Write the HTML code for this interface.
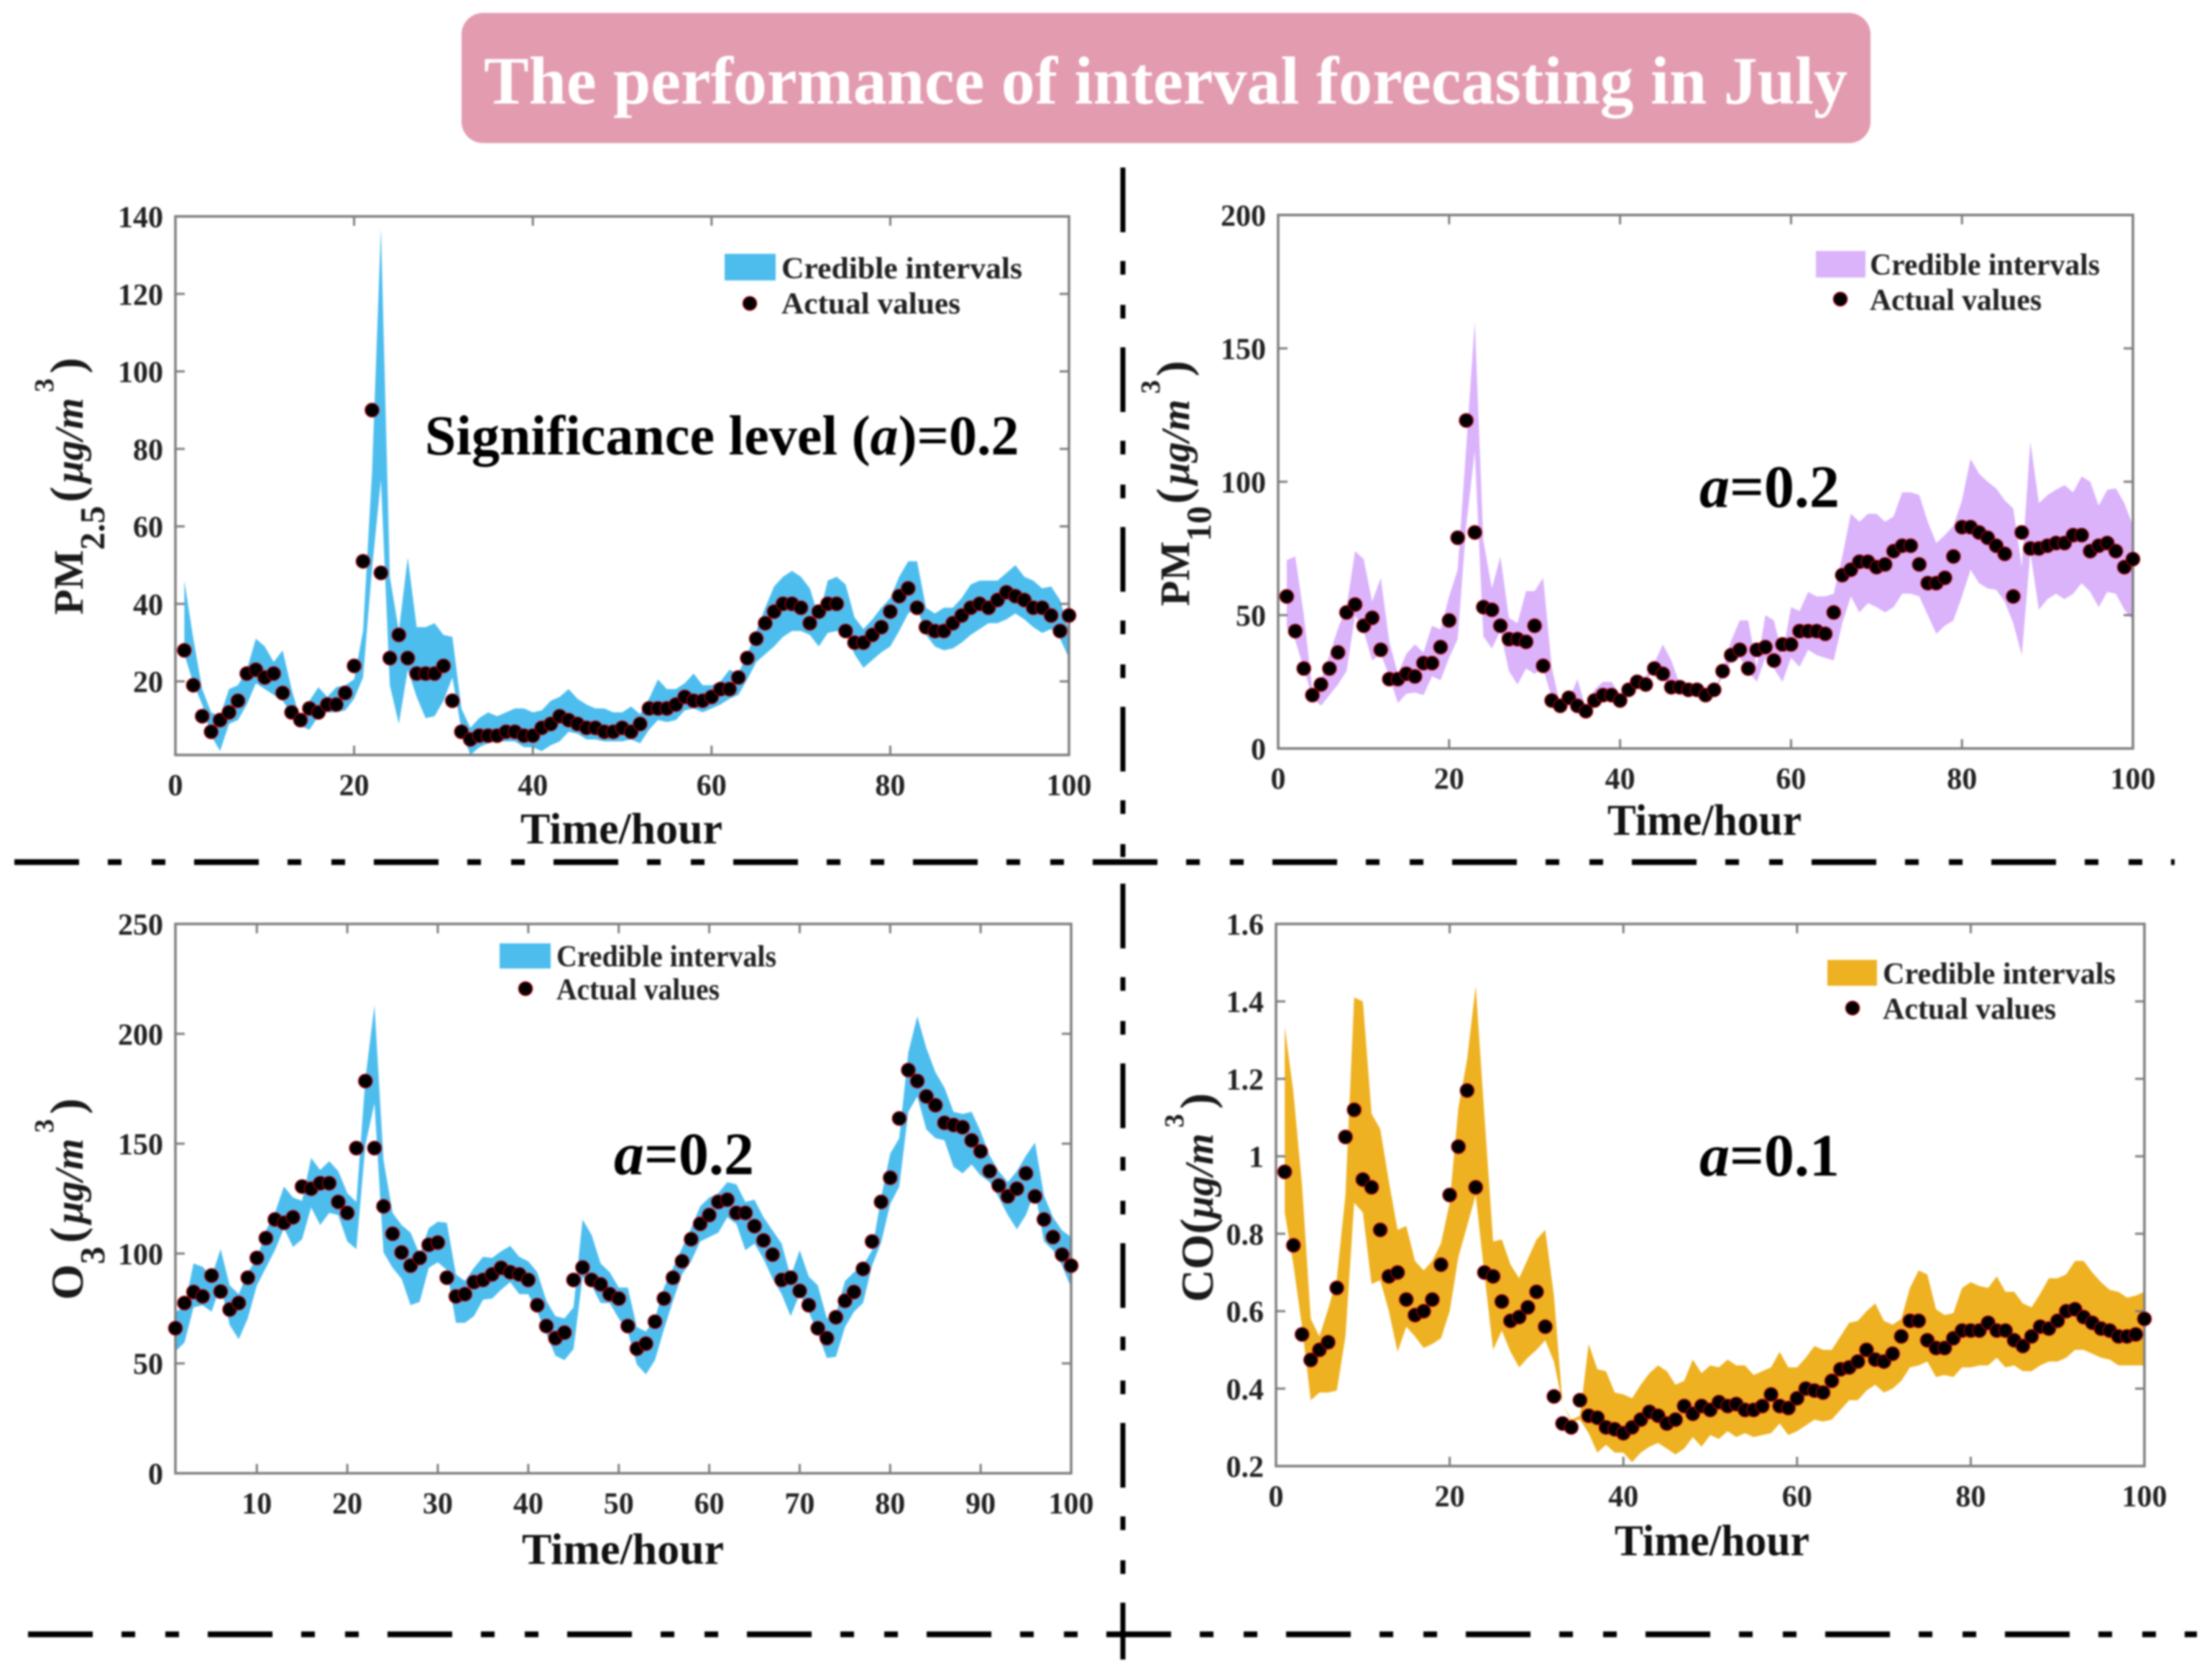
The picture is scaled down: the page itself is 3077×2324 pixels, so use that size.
<!DOCTYPE html>
<html lang="en">
<head>
<meta charset="utf-8">
<title>The performance of interval forecasting in July</title>
<style>
html,body{margin:0;padding:0;background:#fff;}
#chart{display:block;width:3077px;height:2324px;filter:blur(1.2px);}
text{font-family:"Liberation Serif",serif;font-weight:bold;fill:#111;}
.tick-label{font-size:42px;fill:#222;}
.axis-title{font-size:61px;}
.legend-text{font-size:42px;fill:#222;}
.y-title{font-size:58px;fill:#1a1a1a;}
.annot{font-size:84px;fill:#000;}
.ital{font-style:italic;}
</style>
</head>
<body>
<svg id="chart" xmlns="http://www.w3.org/2000/svg" width="3077" height="2324" viewBox="0 0 3077 2324">
  <rect x="642" y="18" width="1960" height="181" rx="30" ry="30" fill="#e39bb0"/>
  <text x="673" y="144" font-size="94" textLength="1897" lengthAdjust="spacingAndGlyphs" style="fill:#fff">The performance of interval forecasting in July</text>

  <g id="panel-pm25"></g>
  <g id="panel-pm10"></g>
  <g id="panel-o3"></g>
  <g id="panel-co"></g>

  <line x1="20" y1="1199" x2="3025" y2="1199" stroke="#000" stroke-width="8" stroke-dasharray="90 40 19 42 19 40"/>
  <line x1="39" y1="2273" x2="3056" y2="2273" stroke="#000" stroke-width="8" stroke-dasharray="90 40 19 42 19 40"/>
  <line x1="1562" y1="233" x2="1562" y2="1192" stroke="#000" stroke-width="7" stroke-dasharray="90 40 19 42 19 40"/>
  <line x1="1562" y1="1229" x2="1562" y2="2308" stroke="#000" stroke-width="7" stroke-dasharray="90 40 19 42 19 40"/>

  <text class="axis-title" x="724" y="1173" textLength="281" lengthAdjust="spacingAndGlyphs">Time/hour</text>
  <text class="axis-title" x="2236" y="1161" textLength="270" lengthAdjust="spacingAndGlyphs">Time/hour</text>
  <text class="axis-title" x="726" y="2175" textLength="281" lengthAdjust="spacingAndGlyphs">Time/hour</text>
  <text class="axis-title" x="2246" y="2163" textLength="271" lengthAdjust="spacingAndGlyphs">Time/hour</text>

  <text class="y-title" transform="translate(115,855) rotate(-90)">PM<tspan font-size="49" dy="30">2.5</tspan><tspan font-size="66" dy="-30" dx="5">(</tspan><tspan class="ital" font-size="56" dx="5">&#956;g/m</tspan><tspan font-size="38" dy="-41" dx="8">3</tspan><tspan font-size="66" dy="41" dx="7">)</tspan></text>
  <text class="y-title" transform="translate(1654,843) rotate(-90)">PM<tspan font-size="49" dy="30">10</tspan><tspan font-size="66" dy="-30" dx="3">(</tspan><tspan class="ital" font-size="56" dx="5">&#956;g/m</tspan><tspan font-size="38" dy="-41" dx="8">3</tspan><tspan font-size="66" dy="41" dx="5">)</tspan></text>
  <text class="y-title" transform="translate(115,1808) rotate(-90)"><tspan font-size="64">O</tspan><tspan font-size="49" dy="30">3</tspan><tspan font-size="66" dy="-30" dx="5">(</tspan><tspan class="ital" font-size="56" dx="5">&#956;g/m</tspan><tspan font-size="38" dy="-41" dx="8">3</tspan><tspan font-size="66" dy="41" dx="7">)</tspan></text>
  <text class="y-title" transform="translate(1687,1811) rotate(-90)"><tspan font-size="63">CO</tspan><tspan font-size="66">(</tspan><tspan class="ital" font-size="56">&#956;g/m</tspan><tspan font-size="38" dy="-41" dx="8">3</tspan><tspan font-size="66" dy="41" dx="7">)</tspan></text>

  <text x="591" y="632" font-size="78" style="fill:#000">Significance level (<tspan class="ital">a</tspan>)=0.2</text>
  <text class="annot" x="2364" y="705"><tspan class="ital">a</tspan>=0.2</text>
  <text class="annot" x="854" y="1633"><tspan class="ital">a</tspan>=0.2</text>
  <text class="annot" x="2364" y="1635"><tspan class="ital">a</tspan>=0.1</text>

  <g>
    <rect x="1008" y="353" width="71" height="37" fill="#4dbdee"/>
    <text class="legend-text" x="1087" y="387" textLength="335" lengthAdjust="spacingAndGlyphs">Credible intervals</text>
    <circle cx="1043" cy="422" r="9.5" fill="#000" stroke="#a00010" stroke-width="1.5"/>
    <text class="legend-text" x="1087" y="436" textLength="249" lengthAdjust="spacingAndGlyphs">Actual values</text>
  </g>
  <g>
    <rect x="2526" y="349" width="69" height="37" fill="#dab3fb"/>
    <text class="legend-text" x="2601" y="382" textLength="320" lengthAdjust="spacingAndGlyphs">Credible intervals</text>
    <circle cx="2560" cy="416" r="9.5" fill="#000" stroke="#a00010" stroke-width="1.5"/>
    <text class="legend-text" x="2601" y="431" textLength="239" lengthAdjust="spacingAndGlyphs">Actual values</text>
  </g>
  <g>
    <rect x="695" y="1312" width="71" height="35" fill="#4dbdee"/>
    <text class="legend-text" x="774" y="1344" textLength="306" lengthAdjust="spacingAndGlyphs">Credible intervals</text>
    <circle cx="731" cy="1375" r="9.5" fill="#000" stroke="#a00010" stroke-width="1.5"/>
    <text class="legend-text" x="774" y="1390" textLength="227" lengthAdjust="spacingAndGlyphs">Actual values</text>
  </g>
  <g>
    <rect x="2542" y="1335" width="69" height="36" fill="#eeb121"/>
    <text class="legend-text" x="2619" y="1368" textLength="324" lengthAdjust="spacingAndGlyphs">Credible intervals</text>
    <circle cx="2577" cy="1402" r="9.5" fill="#000" stroke="#a00010" stroke-width="1.5"/>
    <text class="legend-text" x="2619" y="1417" textLength="241" lengthAdjust="spacingAndGlyphs">Actual values</text>
  </g>
</svg>

<script>
const hours = [1,2,3,4,5,6,7,8,9,10,11,12,13,14,15,16,17,18,19,20,21,22,23,24,25,26,27,28,29,30,31,32,33,34,35,36,37,38,39,40,41,42,43,44,45,46,47,48,49,50,51,52,53,54,55,56,57,58,59,60,61,62,63,64,65,66,67,68,69,70,71,72,73,74,75,76,77,78,79,80,81,82,83,84,85,86,87,88,89,90,91,92,93,94,95,96,97,98,99,100];

const pm25XTicks = [0,20,40,60,80,100];
const pm25YTicks = [20,40,60,80,100,120,140];
const pm25Actual = [28,19,11,7,10,12,15,22,23,21,22,17,12,10,13,12,14,14,17,24,51,90,48,26,32,26,22,22,22,24,15,7,5,6,6,6,7,7,6,6,8,9,11,10,9,8,8,7,7,8,7,9,13,13,13,14,16,15,15,16,18,18,21,26,31,35,38,40,40,39,35,38,40,40,33,30,30,32,34,38,42,44,39,34,33,33,35,37,39,40,39,41,43,42,41,39,39,37,33,37];
const pm25Upper = [46,31,18,12,11,18,19,23,31,29,25,28,18,10,15,18.5,16,18.5,19,20.5,33,74,137,47,33,52,34,34,35,32,31.5,13,8,10.5,12,11,12,13,13,12,12.5,15,16,18,15.5,14,13,13,12,12,13.5,11.5,15.5,20.5,18,18,19.5,22,19,19,20,23,22,27,33,39,44.5,47,48.5,47,44,36.5,46,47,45,36.5,33.5,36,39,41.5,47,51,51,39,37.5,39,39,41.5,45,46,46,46,48,50,47,46,44,44.5,41,33];
const pm25Lower = [27,19.5,14,6,2,9,10,14,19.5,18,16.5,15,11.5,8.5,7.5,11,12,12,12.5,15.5,21,49,72,19,9,23,16,10.5,11,15,21,7.5,1,3,4,4.5,4.5,4.5,3,3,2,3.5,4.5,7,6.5,5,5,4.5,4.5,4.5,5,4,7.5,10,9.5,10,12.5,13,12,13,14,15.5,16.5,20.5,25,27,29,31.5,33,33,32,29,32.5,33,33,27,23.5,25.5,27.5,29,33,37.5,39,32,29,28,28.5,30,32,33.5,35,35,36,37.5,36,34,32.5,33.5,31,26];

const pm10XTicks = [0,20,40,60,80,100];
const pm10YTicks = [0,50,100,150,200];
const pm10Actual = [57,44,30,20,24,30,36,51,54,46,49,37,26,26,28,27,32,32,38,48,79,123,81,53,52,46,41,41,40,46,31,18,16,19,16,14,18,20,20,18,22,25,24,30,28,23,23,22,22,20,22,29,35,37,30,37,38,33,39,39,44,44,44,43,51,65,67,70,70,68,69,74,76,76,69,62,62,64,72,83,83,81,79,76,73,57,81,75,75,76,77,77,80,80,74,76,77,74,68,71];
const pm10Upper = [70.6,72,50,22,25.6,35,45,53,74,71,55,64,40,28,35.5,39,36,46,44.6,57,67,113,160,78,60,72,49,47,59,59,64,30.5,16,18,26,15,22,25,25,20,22,26.5,27,32,39,33,24,22.5,21.5,19,21.5,29,40.5,48,48,30.5,50,48,35,53,51.5,58.7,57,57,58,72,88,85,88,88,85,87,96,96,95,85,77,80,83.5,93,108.6,103,100,97.5,93,90,68,115,92,95,97,98.7,96,102,100,91,97,97.5,92,83.5];
const pm10Lower = [45.5,40.5,30,19,16,20,24,29,50,44,33,35.5,27,17,20.5,21,20,27,25.6,34,41,83.5,111.6,42,37.5,44,29,24,30,28,30,19,15.7,16.5,15.7,14,17.4,19,19,17,20.7,24,25,30,26,23,22,21.5,21,19,21,27,33,34,29,25,34,30,25,34,30.6,37,35,34,33,47,57,51,54.5,53,51,53,58,58,57,50,43,46,48,57,67,62,60,59.5,55,47,35,73.5,52,56,58,56,58,62,58.7,53,58.7,58,52,48];

const o3XTicks = [10,20,30,40,50,60,70,80,90,100];
const o3YTicks = [0,50,100,150,200,250];
const o3Actual = [66,77.5,82.5,80.5,90,82.7,74.5,77.5,89,98,107,115.5,114,116.5,130.5,129.5,132,132,123.5,118.5,148,178.5,148,121.5,109,100.5,94.5,98,104,105,89,80.5,81.5,87,88,90.5,93.5,91.5,90.5,88,76.5,67,61.5,64,88,93.7,88,86,81.5,79.5,67,56.7,59,69,79.5,89,96.5,106.5,113.5,117.5,123.5,124.5,118.5,118.5,112.5,106,99.5,88,89,83,76.5,66,61.5,71,78.5,82.5,93,105.5,123.5,134.5,161.5,183.5,178.5,171.5,167.5,159.5,158.5,157.5,151.5,146.5,137.5,131,126,129.5,136.5,126,115.5,107.5,99.5,94.5];
const o3Upper = [73.5,75.5,95.5,94,89.5,102,85.5,81.5,91.5,97.5,110.5,118.5,130.5,125.5,124,143.5,138,142,137.5,127.5,123.5,179.5,213,142.5,118.5,113,109.5,99.5,111.5,114.5,114,90.5,87.5,93.5,98.5,98,101,103.5,98.5,96.5,91.5,78.5,71.5,70.5,75.5,115.5,108.5,95.5,91.5,84.5,84.5,66.5,64.5,70.5,84.5,93.5,102.5,111.5,121.5,125.5,127.5,132.5,131.5,123.5,124.5,116.5,110.5,104.5,89.5,101.5,89.5,85.5,70.5,72.5,87.5,91.5,94.5,101.5,125.5,145.5,152.5,191.5,208,193.5,182.5,175.5,164.5,163.5,164.5,155.5,144.5,137.5,132.5,137.5,144.5,150.5,126.5,116.5,110.5,107.5];
const o3Lower = [55.5,59.5,75.5,76.5,73.5,85.5,67.5,61,70.5,85.5,93.5,101.5,111.5,103,106.5,121,113,118.5,117.5,105.5,102,149.5,168.5,100.5,93.5,88.5,76.5,78,93.5,96,92.5,68.5,68.5,71.5,79,79.5,83.5,87,81.5,81.5,73.5,63.5,53.5,51.5,56.5,89.5,85.5,77.5,77.5,70.5,64.5,49.5,45,51.5,65.5,78.5,90.5,96.5,105.5,107.5,109.5,116.5,113.5,101.5,104.5,97.5,88.5,81.5,71.5,81.5,73.5,63.5,52.5,53,66.5,73.5,77.5,94.5,105,122.5,130.5,164.5,171.5,156.5,152.5,151.5,139.5,136.5,140.5,135.5,132.5,125.5,117.5,111,117.5,128.5,105.5,101.5,94.5,84.5];

const coXTicks = [0,20,40,60,80,100];
const coYTicks = [0.2,0.4,0.6,0.8,1,1.2,1.4,1.6];
const coActual = [0.96,0.77,0.54,0.474,0.5,0.52,0.66,1.05,1.12,0.94,0.92,0.81,0.69,0.7,0.63,0.59,0.6,0.63,0.72,0.9,1.025,1.17,0.92,0.7,0.69,0.625,0.575,0.585,0.61,0.65,0.56,0.38,0.31,0.3,0.37,0.33,0.325,0.3,0.295,0.285,0.3,0.32,0.34,0.33,0.31,0.32,0.355,0.335,0.355,0.345,0.365,0.355,0.36,0.345,0.345,0.355,0.385,0.355,0.35,0.375,0.4,0.395,0.39,0.42,0.45,0.455,0.47,0.5,0.475,0.47,0.49,0.535,0.575,0.575,0.525,0.505,0.505,0.53,0.55,0.55,0.55,0.57,0.55,0.55,0.525,0.51,0.535,0.56,0.555,0.575,0.6,0.605,0.585,0.57,0.555,0.55,0.535,0.535,0.54,0.58];
const coUpper = [1.335,1.165,0.925,0.58,0.535,0.605,0.685,0.9,1.41,1.4,1.11,1.07,0.935,0.81,0.82,0.73,0.705,0.73,0.775,0.88,1.125,1.25,1.44,1.105,0.78,0.785,0.72,0.685,0.735,0.785,0.81,0.64,0.36,0.32,0.33,0.515,0.45,0.445,0.39,0.385,0.375,0.41,0.44,0.46,0.445,0.41,0.42,0.475,0.44,0.46,0.455,0.475,0.46,0.46,0.435,0.445,0.455,0.495,0.455,0.455,0.48,0.51,0.5,0.5,0.535,0.57,0.575,0.6,0.62,0.575,0.565,0.58,0.66,0.705,0.695,0.605,0.59,0.595,0.66,0.675,0.665,0.66,0.69,0.65,0.65,0.62,0.61,0.645,0.685,0.685,0.695,0.73,0.73,0.7,0.675,0.655,0.65,0.635,0.64,0.65];
const coLower = [0.855,0.72,0.56,0.37,0.39,0.39,0.395,0.535,0.88,0.855,0.67,0.68,0.6,0.495,0.56,0.535,0.505,0.515,0.53,0.6,0.74,0.82,0.9,0.695,0.5,0.55,0.495,0.455,0.48,0.5,0.525,0.47,0.36,0.315,0.32,0.285,0.235,0.255,0.235,0.235,0.21,0.235,0.25,0.26,0.245,0.23,0.245,0.275,0.25,0.28,0.27,0.29,0.275,0.285,0.275,0.28,0.285,0.31,0.28,0.29,0.305,0.32,0.315,0.32,0.345,0.37,0.37,0.395,0.41,0.39,0.4,0.42,0.455,0.46,0.47,0.43,0.435,0.43,0.455,0.455,0.46,0.46,0.48,0.455,0.46,0.445,0.445,0.46,0.47,0.47,0.48,0.5,0.5,0.49,0.48,0.475,0.46,0.46,0.46,0.46];

const SVG_NS = 'http://www.w3.org/2000/svg';

function drawPanel(groupId, box, domain, xTicks, yTicks, upper, lower, actual, color) {
  const group = document.getElementById(groupId);
  const sx = function (v) { return box.left + (v - domain.xMin) / (domain.xMax - domain.xMin) * (box.right - box.left); };
  const sy = function (v) { return box.bottom - (v - domain.yMin) / (domain.yMax - domain.yMin) * (box.bottom - box.top); };

  const upperPts = hours.map(function (h, i) { return sx(h).toFixed(1) + ',' + sy(upper[i]).toFixed(1); });
  const lowerPts = hours.map(function (h, i) { return sx(h).toFixed(1) + ',' + sy(lower[i]).toFixed(1); }).reverse();
  const band = document.createElementNS(SVG_NS, 'polygon');
  
  
  band.setAttribute('points', upperPts.concat(lowerPts).join(' '));
  band.setAttribute('fill', color);
  group.appendChild(band);

  const frame = document.createElementNS(SVG_NS, 'rect');
  
  
  frame.setAttribute('x', box.left);
  frame.setAttribute('y', box.top);
  frame.setAttribute('width', box.right - box.left);
  frame.setAttribute('height', box.bottom - box.top);
  frame.setAttribute('fill', 'none');
  frame.setAttribute('stroke', '#7d7d7d');
  frame.setAttribute('stroke-width', '3.5');
  group.appendChild(frame);

  xTicks.forEach(function (t) {
    const x = sx(t);
    [[box.bottom, box.bottom - 13], [box.top, box.top + 13]].forEach(function (seg) {
      const tick = document.createElementNS(SVG_NS, 'line');
      
      
      tick.setAttribute('x1', x);
      tick.setAttribute('x2', x);
      tick.setAttribute('y1', seg[0]);
      tick.setAttribute('y2', seg[1]);
      tick.setAttribute('stroke', '#7d7d7d');
      tick.setAttribute('stroke-width', '3');
      group.appendChild(tick);
    });
    const label = document.createElementNS(SVG_NS, 'text');
    
    
    label.setAttribute('class', 'tick-label');
    label.setAttribute('x', x);
    label.setAttribute('y', box.bottom + 56);
    label.setAttribute('text-anchor', 'middle');
    label.textContent = String(t);
    group.appendChild(label);
  });

  yTicks.forEach(function (t) {
    const y = sy(t);
    [[box.left, box.left + 13], [box.right, box.right - 13]].forEach(function (seg) {
      const tick = document.createElementNS(SVG_NS, 'line');
      
      
      tick.setAttribute('x1', seg[0]);
      tick.setAttribute('x2', seg[1]);
      tick.setAttribute('y1', y);
      tick.setAttribute('y2', y);
      tick.setAttribute('stroke', '#7d7d7d');
      tick.setAttribute('stroke-width', '3');
      group.appendChild(tick);
    });
    const label = document.createElementNS(SVG_NS, 'text');
    
    
    label.setAttribute('class', 'tick-label');
    label.setAttribute('x', box.left - 17);
    label.setAttribute('y', y + 15);
    label.setAttribute('text-anchor', 'end');
    label.textContent = String(t);
    group.appendChild(label);
  });

  hours.forEach(function (h, i) {
    const dot = document.createElementNS(SVG_NS, 'circle');
    
    
    dot.setAttribute('cx', sx(h).toFixed(1));
    dot.setAttribute('cy', sy(actual[i]).toFixed(1));
    dot.setAttribute('r', '9.5');
    dot.setAttribute('fill', '#000');
    dot.setAttribute('stroke', '#a00010');
    dot.setAttribute('stroke-width', '1.5');
    group.appendChild(dot);
  });
}

drawPanel('panel-pm25', {left:244,right:1487,top:301,bottom:1050}, {xMin:0,xMax:100,yMin:1,yMax:140}, pm25XTicks, pm25YTicks, pm25Upper, pm25Lower, pm25Actual, '#4dbdee');
drawPanel('panel-pm10', {left:1778,right:2967,top:299,bottom:1041}, {xMin:0,xMax:100,yMin:0,yMax:200}, pm10XTicks, pm10YTicks, pm10Upper, pm10Lower, pm10Actual, '#dab3fb');
drawPanel('panel-o3', {left:244,right:1490,top:1285,bottom:2049}, {xMin:1,xMax:100,yMin:0,yMax:250}, o3XTicks, o3YTicks, o3Upper, o3Lower, o3Actual, '#4dbdee');
drawPanel('panel-co', {left:1775,right:2983,top:1285,bottom:2039}, {xMin:0,xMax:100,yMin:0.2,yMax:1.6}, coXTicks, coYTicks, coUpper, coLower, coActual, '#eeb121');
</script>
</body>
</html>
